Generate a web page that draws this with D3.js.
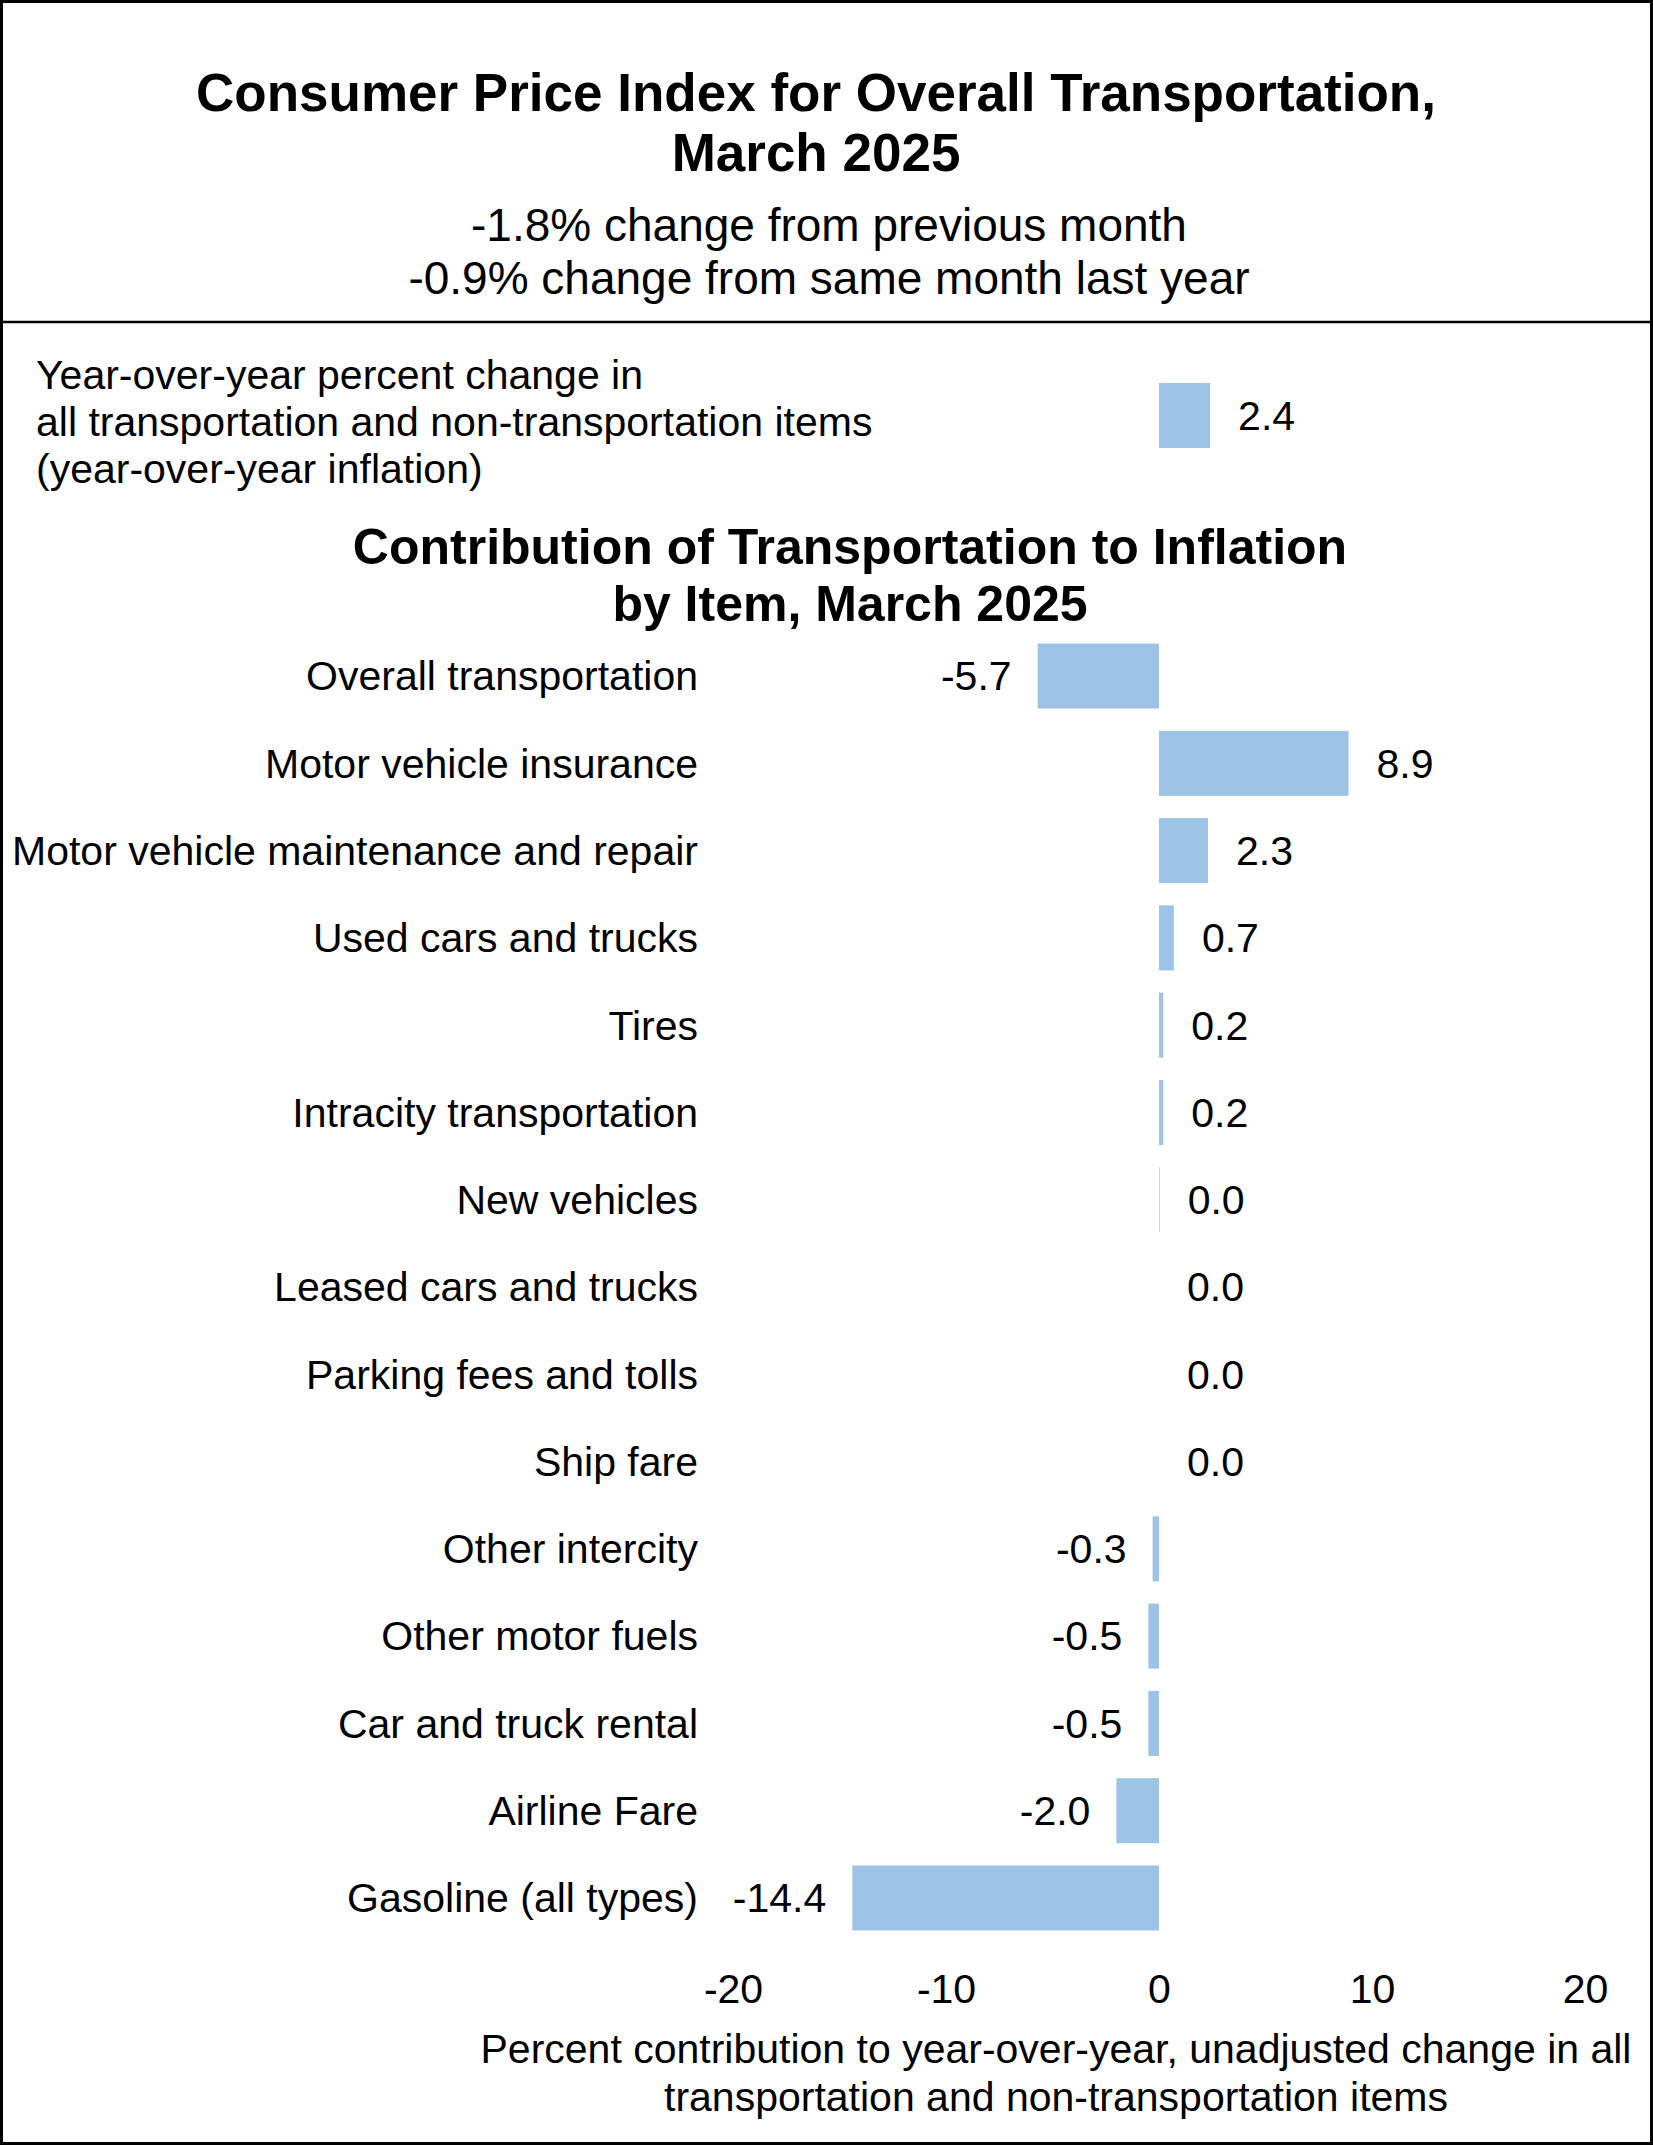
<!DOCTYPE html>
<html>
<head>
<meta charset="utf-8">
<script src="https://cdn.jsdelivr.net/npm/d3@7"></script>
<style>
  body { margin: 0; background: #fff; }
  svg { display: block; font-family: "Liberation Sans", Arial, sans-serif; }
</style>
</head>
<body>
<div id="chart"></div>
<script>
// Chart data
const titleLines = ['Consumer Price Index for Overall Transportation,', 'March 2025'];
const subtitleLines = ['-1.8% change from previous month', '-0.9% change from same month last year'];
const headlineLines = [
  'Year-over-year percent change in',
  'all transportation and non-transportation items',
  '(year-over-year inflation)'
];
const headlineValue = 2.4;
const sectionTitleLines = ['Contribution of Transportation to Inflation', 'by Item, March 2025'];
const categories = [
  'Overall transportation',
  'Motor vehicle insurance',
  'Motor vehicle maintenance and repair',
  'Used cars and trucks',
  'Tires',
  'Intracity transportation',
  'New vehicles',
  'Leased cars and trucks',
  'Parking fees and tolls',
  'Ship fare',
  'Other intercity',
  'Other motor fuels',
  'Car and truck rental',
  'Airline Fare',
  'Gasoline (all types)'
];
const values = [-5.7, 8.9, 2.3, 0.7, 0.2, 0.2, 0.03, 0.0, 0.0, 0.0, -0.3, -0.5, -0.5, -2.0, -14.4];
const xTicks = [-20, -10, 0, 10, 20];
const axisTitleLines = [
  'Percent contribution to year-over-year, unadjusted change in all',
  'transportation and non-transportation items'
];

const width = 1653, height = 2145;
const barColor = '#9dc3e6';
// plain hyphen for negatives, like the original
const fmt = v => v.toFixed(1);

const svg = d3.select('#chart')
  .append('svg')
  .attr('width', width)
  .attr('height', height);

svg.append('rect')
  .attr('x', 1.5).attr('y', 1.5)
  .attr('width', width - 3).attr('height', height - 3)
  .attr('fill', '#fff')
  .attr('stroke', '#000')
  .attr('stroke-width', 3);

// header
svg.append('g')
  .selectAll('text')
  .data(titleLines)
  .join('text')
  .attr('x', 816)
  .attr('y', (d, i) => 111 + i * 60)
  .attr('text-anchor', 'middle')
  .style('font-size', '53px')
  .style('font-weight', 'bold')
  .text(d => d);

svg.append('g')
  .selectAll('text')
  .data(subtitleLines)
  .join('text')
  .attr('x', 829)
  .attr('y', (d, i) => 241 + i * 53)
  .attr('text-anchor', 'middle')
  .style('font-size', '46px')
  .text(d => d);

svg.append('line')
  .attr('x1', 0).attr('x2', width)
  .attr('y1', 322).attr('y2', 322)
  .attr('stroke', '#000')
  .attr('stroke-width', 2.5);

// scales
const x = d3.scaleLinear().domain([-20, 20]).range([733, 1585]);
const y = d3.scaleBand()
  .domain(categories)
  .range([632.4, 1941.6])
  .paddingInner(0.255)
  .paddingOuter(0.1275);

// headline inflation bar
svg.append('g')
  .selectAll('text')
  .data(headlineLines)
  .join('text')
  .attr('x', 36)
  .attr('y', (d, i) => 389 + i * 47)
  .style('font-size', '41px')
  .text(d => d);

svg.append('rect')
  .attr('x', x(Math.min(0, headlineValue)))
  .attr('y', 383)
  .attr('width', Math.abs(x(headlineValue) - x(0)))
  .attr('height', y.bandwidth())
  .attr('fill', barColor);

svg.append('text')
  .attr('x', x(headlineValue) + 28)
  .attr('y', 383 + y.bandwidth() / 2)
  .attr('dy', '0.35em')
  .style('font-size', '41px')
  .text(fmt(headlineValue));

// section title
svg.append('g')
  .selectAll('text')
  .data(sectionTitleLines)
  .join('text')
  .attr('x', 850)
  .attr('y', (d, i) => 564 + i * 57)
  .attr('text-anchor', 'middle')
  .style('font-size', '50px')
  .style('font-weight', 'bold')
  .text(d => d);

const rows = categories.map((c, i) => ({ category: c, value: values[i] }));

// category labels
svg.append('g')
  .selectAll('text')
  .data(rows)
  .join('text')
  .attr('x', 698)
  .attr('y', d => y(d.category) + y.bandwidth() / 2)
  .attr('dy', '0.35em')
  .attr('text-anchor', 'end')
  .style('font-size', '41px')
  .text(d => d.category);

// bars
svg.append('g')
  .selectAll('rect')
  .data(rows)
  .join('rect')
  .attr('x', d => x(Math.min(0, d.value)))
  .attr('y', d => y(d.category))
  .attr('width', d => Math.abs(x(d.value) - x(0)))
  .attr('height', y.bandwidth())
  .attr('fill', barColor);

// value labels
svg.append('g')
  .selectAll('text')
  .data(rows)
  .join('text')
  .attr('x', d => d.value < 0 ? x(d.value) - 26 : x(d.value) + 28)
  .attr('y', d => y(d.category) + y.bandwidth() / 2)
  .attr('dy', '0.35em')
  .attr('text-anchor', d => d.value < 0 ? 'end' : 'start')
  .style('font-size', '41px')
  .text(d => fmt(d.value));

// x axis (labels only)
const xAxis = svg.append('g')
  .attr('transform', 'translate(0,1960)')
  .call(d3.axisBottom(x).tickValues(xTicks).tickSize(0).tickPadding(0).tickFormat(d => String(d)));
xAxis.select('.domain').remove();
xAxis.selectAll('text')
  .attr('y', 43)
  .attr('dy', 0)
  .attr('fill', '#000')
  .style('font-size', '41px')
  .style('font-family', '"Liberation Sans", Arial, sans-serif');

svg.append('g')
  .selectAll('text')
  .data(axisTitleLines)
  .join('text')
  .attr('x', 1056)
  .attr('y', (d, i) => 2063 + i * 48)
  .attr('text-anchor', 'middle')
  .style('font-size', '41px')
  .text(d => d);
</script>
</body>
</html>
